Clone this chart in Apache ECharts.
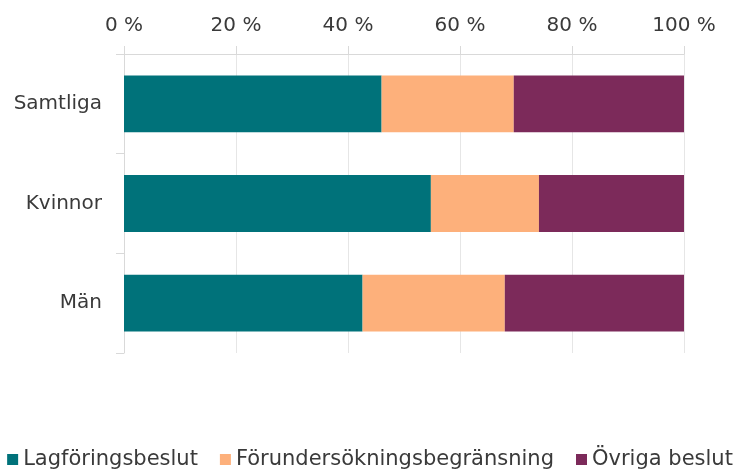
<!DOCTYPE html>
<html>
<head>
<meta charset="utf-8">
<script src="https://cdn.jsdelivr.net/npm/echarts@6/dist/echarts.min.js"></script>
<style>
  html, body { margin: 0; padding: 0; background: #fff; }
  #chart { width: 740px; height: 470px; }
</style>
</head>
<body>
<div id="chart"></div>
<script>
// andelar i procent, läst ur bilden
var categories = ['Samtliga', 'Kvinnor', 'Män'];
var lagforing = [46.0, 54.8, 42.6];
var forundersokning = [23.6, 19.3, 25.4];
var ovriga = [30.4, 25.9, 32.0];
var seriesNames = ['Lagföringsbeslut', 'Förundersökningsbegränsning', 'Övriga beslut'];
var colors = ['#00727A', '#FDB07B', '#7C2A5A'];

var font = '"DejaVu Sans", sans-serif';
var axisGrey = '#d9d9d9';
var textColor = '#3a3a3a';

var myChart = echarts.init(document.getElementById('chart'));

function bar(name, data, color) {
	return {
		name: name,
		type: 'bar',
		stack: 'total',
		barCategoryGap: '43%',
		itemStyle: { color: color },
		data: data
	};
}

myChart.setOption({
	animation: false,
	color: colors,
	grid: {
		left: 124,
		right: 56,
		top: 54,
		bottom: 117
	},
	legend: {
		bottom: 0,
		left: 'center',
		padding: 0,
		itemWidth: 11,
		itemHeight: 11,
		itemGap: 22,
		icon: 'rect',
		textStyle: {
			color: textColor,
			fontSize: 21,
			fontFamily: font
		},
		data: seriesNames
	},
	xAxis: {
		type: 'value',
		position: 'top',
		min: 0,
		max: 100,
		interval: 20,
		axisLine: { show: true, lineStyle: { color: axisGrey } },
		axisTick: { show: true, length: 8, lineStyle: { color: axisGrey } },
		splitLine: { show: true, lineStyle: { color: '#e6e6e6' } },
		axisLabel: {
			margin: 18,
			color: textColor,
			fontSize: 20,
			fontFamily: font,
			formatter: '{value} %'
		}
	},
	yAxis: {
		type: 'category',
		inverse: true,
		data: categories,
		axisLine: { show: true, lineStyle: { color: axisGrey } },
		axisTick: { show: true, length: 8, lineStyle: { color: axisGrey } },
		axisLabel: {
			margin: 22,
			color: textColor,
			fontSize: 20,
			fontFamily: font
		}
	},
	series: [
		bar(seriesNames[0], lagforing, colors[0]),
		bar(seriesNames[1], forundersokning, colors[1]),
		bar(seriesNames[2], ovriga, colors[2])
	]
});
</script>
</body>
</html>
